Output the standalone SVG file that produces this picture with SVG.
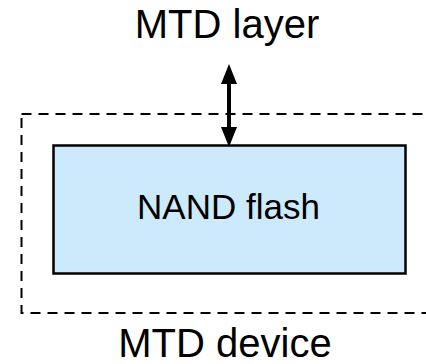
<svg xmlns="http://www.w3.org/2000/svg" width="426" height="364" viewBox="0 0 426 364">
<style>
text{font-family:"Liberation Sans",Arial,sans-serif;fill:#000;text-anchor:middle}
.big{font-size:40px}
.mid{font-size:35px}
.dev{fill:none;stroke:#000;stroke-width:2;stroke-dasharray:10 7}
.chip{fill:#cdeafd;stroke:#000;stroke-width:2.5}
.conn{stroke:#000;stroke-width:4;fill:none}
</style>
<defs>
<marker id="ah" markerUnits="userSpaceOnUse" markerWidth="20" markerHeight="16" viewBox="0 0 20 16" refX="10" refY="8" orient="auto-start-reverse">
<path d="M0,0 L20,8 L0,16 z" fill="#000"/>
</marker>
</defs>
<rect width="426" height="364" fill="#fff"/>
<g id="mtd-device">
<rect class="dev" x="21.5" y="114" width="420" height="199"/>
<text class="big" x="225" y="357">MTD device</text>
</g>
<g id="nand-flash">
<rect class="chip" x="53.5" y="145.5" width="352" height="128"/>
<text class="mid" x="228.5" y="219">NAND flash</text>
</g>
<g id="mtd-layer">
<text class="big" x="227" y="38">MTD layer</text>
</g>
<g id="connectors">
<line class="conn" x1="229" y1="74" x2="229" y2="137" marker-start="url(#ah)" marker-end="url(#ah)"/>
</g>
</svg>
